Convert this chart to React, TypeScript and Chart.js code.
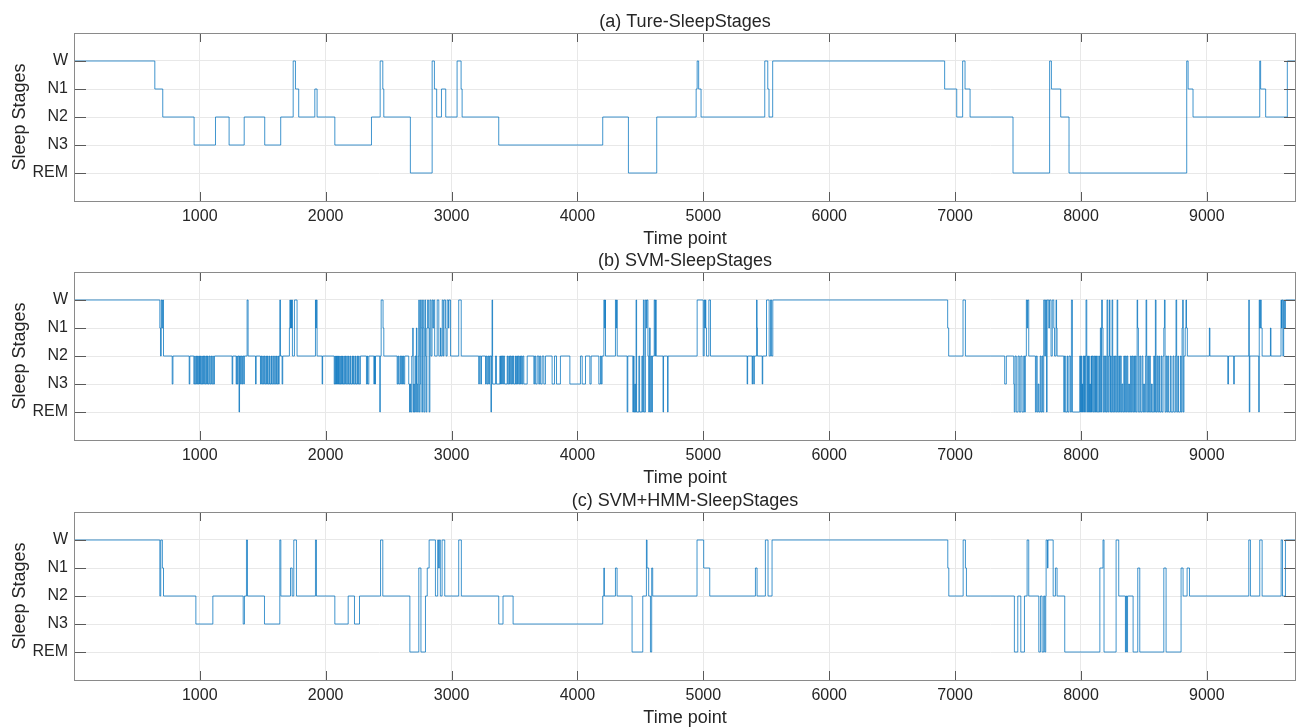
import React, { useEffect, useRef } from 'react';
import { Chart, registerables } from 'chart.js';

Chart.register(...registerables);

// Stage codes
const W = 5, N1 = 4, N2 = 3, N3 = 2, R = 1;
const stageTicks = [1, 2, 3, 4, 5];
const stageLabels: Record<number, string> = { 5: 'W', 4: 'N1', 3: 'N2', 2: 'N3', 1: 'REM' };
const timeTicks = [1000, 2000, 3000, 4000, 5000, 6000, 7000, 8000, 9000];
const T_MIN = 1;
const T_MAX = 9708;
const plotTitles = ['(a) Ture-SleepStages', '(b) SVM-SleepStages', '(c) SVM+HMM-SleepStages'];
const xTitle = 'Time point';
const yTitle = 'Sleep Stages';

// [time point where stage starts, stage]
const trueSteps: [number, number][] = [
  [1, W], [643, N1], [706, N2], [955, N3], [1125, N2], [1233, N3], [1353, N2], [1516, N3], [1643, N2],
  [1742, W], [1760, N1], [1786, N2], [1914, N1], [1932, N2], [2073, N3], [2364, N2], [2433, W], [2454, N1],
  [2462, N2], [2673, R], [2846, W], [2864, N1], [2882, N2], [2920, N1], [2954, N2], [3044, W], [3076, N1],
  [3084, N2], [3375, N3], [4201, N2], [4405, R], [4630, N2], [4943, N1], [4951, W], [4963, N1], [4982, N2],
  [5488, W], [5512, N1], [5522, N2], [5551, W], [6917, N1], [7013, N2], [7060, W], [7079, N1], [7119, N2],
  [7460, R], [7751, W], [7765, N1], [7839, N2], [7905, R], [8840, W], [8851, N1], [8890, N2], [9420, W],
  [9427, N1], [9467, N2], [9639, W], [9708, W],
];

const svmSteps: [number, number][] = [
  [1, W],
  [683, N1], [688, N2], [694, W], [700, N1], [705, W], [712, N2],
  [781, N3], [787, N2], [916, N3], [921, N2],
  [953, N3], [960, N2], [964, N3], [972, N2], [976, N3], [983, N2], [987, N3], [993, N2], [998, N3], [1004, N2],
  [1008, N3], [1016, N2], [1020, N3], [1026, N2], [1031, N3], [1037, N2], [1043, N3], [1050, N2], [1055, N3],
  [1061, N2], [1066, N3], [1074, N2], [1080, N3], [1088, N2], [1094, N3], [1103, N2], [1108, N3], [1117, N2],
  [1257, N3], [1262, N2], [1289, N3], [1294, N2], [1298, N3], [1304, N2], [1312, R], [1316, N2], [1324, N3],
  [1330, N2], [1337, N3], [1342, N2], [1350, N3], [1354, N2],
  [1376, W], [1384, N2], [1443, N3], [1448, N2],
  [1482, N3], [1487, N2], [1492, N3], [1500, N2], [1505, N3], [1512, N2], [1517, N3], [1525, N2], [1530, N3],
  [1538, N2], [1543, N3], [1552, N2], [1556, N3], [1566, N2], [1570, N3], [1580, N2], [1585, N3], [1595, N2],
  [1600, N3], [1608, N2], [1612, N3], [1620, N2], [1625, N3], [1631, N2],
  [1636, W], [1641, N2], [1654, N3], [1659, N2],
  [1712, N1], [1716, W], [1720, N1], [1724, W], [1728, N1], [1732, W], [1736, N2], [1752, W], [1773, N2],
  [1919, W], [1923, N1], [1926, W], [1932, N2], [1972, N3], [1976, N2],
  [2068, N3], [2074, N2], [2077, N3], [2083, N2], [2086, N3], [2092, N2], [2095, N3], [2102, N2], [2105, N3],
  [2112, N2], [2115, N3], [2122, N2], [2125, N3], [2133, N2], [2136, N3], [2145, N2], [2148, N3], [2156, N2],
  [2160, N3], [2168, N2], [2172, N3], [2182, N2], [2186, N3], [2195, N2], [2199, N3], [2210, N2], [2214, N3],
  [2222, N2], [2226, N3], [2236, N2], [2240, N3], [2250, N2], [2254, N3], [2262, N2], [2266, N3], [2276, N2],
  [2324, N3], [2330, N2], [2334, N3], [2343, N2], [2383, N3], [2388, N2], [2392, N3], [2396, N2],
  [2430, R], [2434, N2], [2441, W], [2456, N1], [2462, N2],
  [2568, N3], [2574, N2], [2580, N3], [2590, N2], [2596, N3], [2602, N2], [2610, N3], [2615, N2], [2620, N3], [2628, N2],
  [2660, N3], [2666, R], [2672, N3], [2676, R], [2684, N2], [2692, N1], [2695, R], [2700, N3], [2704, R],
  [2710, N2], [2716, R], [2721, N1], [2725, N3], [2730, R], [2736, N2], [2740, W], [2744, R], [2750, N3],
  [2754, W], [2760, N1], [2764, R], [2770, W], [2776, N1], [2780, R], [2788, W], [2794, N2], [2798, R],
  [2804, N1], [2810, W], [2816, N1], [2822, R], [2828, W], [2836, N2],
  [2845, W], [2852, N1], [2858, W], [2866, N2], [2886, W], [2899, N2], [2912, N1], [2916, N2], [2926, W],
  [2934, N2], [2940, W], [2952, N1], [2956, N2], [2965, W], [2975, N1], [2979, W], [2992, N2], [3057, W], [3077, N2],
  [3216, N3], [3221, N2], [3232, N3], [3238, N2], [3270, N3], [3276, N2], [3283, N3], [3290, N2], [3296, N3],
  [3302, N2], [3313, R], [3317, N2], [3322, W], [3326, N3], [3349, N2], [3357, N3], [3384, N2], [3388, N3],
  [3392, N2], [3398, N3], [3402, N2], [3408, N3], [3412, N2], [3421, N3], [3442, N2], [3447, N3], [3455, N2],
  [3460, N3], [3466, N2], [3472, N3], [3478, N2], [3485, N3], [3490, N2], [3495, N3], [3508, N2], [3513, N3],
  [3518, N2], [3524, N3], [3530, N2], [3536, N3], [3542, N2], [3548, N3], [3554, N2], [3560, N3], [3566, N2],
  [3574, N3], [3601, N2], [3654, N3], [3660, N2], [3668, N3], [3680, N2], [3693, N3], [3700, N2], [3708, N3],
  [3720, N2], [3733, N3], [3746, N2], [3799, N3], [3818, N2], [3834, N3], [3865, N2], [3940, N3], [4024, N2],
  [4038, N3], [4064, N2], [4099, N3], [4109, N2], [4170, N3], [4183, N2], [4190, N3], [4196, N2],
  [4210, W], [4216, N1], [4220, W], [4223, N2], [4302, W], [4308, N1], [4312, W], [4316, N2],
  [4395, R], [4400, N2], [4440, R], [4446, N2], [4450, R], [4456, N3], [4460, R], [4466, W], [4470, R],
  [4488, N2], [4494, R], [4512, N2], [4518, R], [4524, W], [4530, R], [4540, W], [4548, N1], [4552, W],
  [4560, N2], [4566, R], [4572, N1], [4578, R], [4584, N2], [4590, R], [4596, N2], [4610, W], [4616, N2],
  [4620, W], [4626, N2], [4680, R], [4684, N2], [4716, R], [4720, N2],
  [4951, W], [4999, N2], [5007, W], [5012, N1], [5016, W], [5020, N1], [5025, N2], [5044, W], [5057, N2],
  [5348, N3], [5352, N2], [5388, N3], [5392, N2], [5401, N3], [5405, N2], [5423, W], [5427, N1], [5430, N2],
  [5468, N3], [5472, N2], [5502, W], [5523, N2], [5534, W], [5542, N2], [5552, W],
  [6941, N1], [6949, N2], [7063, W], [7082, N2], [7394, N3], [7407, N2],
  [7466, N3], [7470, R], [7476, N2], [7486, R], [7500, N2], [7510, R], [7522, N2], [7532, R], [7545, N2],
  [7552, R], [7558, N2], [7566, W], [7572, N1], [7576, W], [7585, N2],
  [7638, R], [7645, N2], [7652, R], [7660, N3], [7666, R], [7676, N2], [7682, R], [7690, N2], [7696, R],
  [7704, W], [7712, N2], [7718, W], [7726, R], [7731, W], [7744, N1], [7750, W], [7762, N2], [7772, W],
  [7784, N1], [7790, N2], [7802, W], [7806, N1], [7810, N2],
  [7863, R], [7869, N2], [7876, R], [7890, N2], [7895, R], [7905, N2], [7916, R], [7924, W], [7932, R],
  [7990, N2], [7996, R], [8001, N2], [8005, R], [8009, N3], [8013, R], [8017, N2], [8022, R], [8027, N2],
  [8031, R], [8035, N2], [8040, W], [8046, R], [8052, N2], [8058, R], [8062, N2], [8066, R], [8070, N3],
  [8075, R], [8080, N2], [8084, R], [8088, N2], [8094, R], [8101, N2], [8108, R], [8115, N2], [8119, R],
  [8123, N2], [8130, R], [8141, N2], [8147, R], [8154, N1], [8160, R], [8164, W], [8170, N1], [8175, R],
  [8181, N2], [8188, R], [8194, N2], [8200, R], [8207, W], [8213, R], [8220, N2], [8226, W], [8230, R],
  [8234, N2], [8240, R], [8247, W], [8252, R], [8260, N2], [8266, R], [8273, N2], [8280, R], [8287, W],
  [8292, R], [8300, N2], [8306, R], [8313, N2], [8320, R], [8326, N3], [8332, R], [8340, N2], [8346, R],
  [8353, N2], [8360, R], [8366, N2], [8372, R], [8379, N3], [8385, R], [8393, N2], [8400, R], [8406, N2],
  [8412, R], [8419, N2], [8425, R], [8432, N2], [8438, R], [8446, W], [8450, N1], [8456, R], [8467, N2],
  [8474, R], [8485, N2], [8492, R], [8498, N3], [8504, R], [8512, N2], [8517, W], [8522, R], [8530, N2],
  [8536, R], [8545, N2], [8551, R], [8560, N3], [8566, R], [8578, N2], [8584, R], [8591, W], [8596, R],
  [8604, N2], [8610, R], [8618, N2], [8624, R], [8636, N2], [8642, R], [8652, N2], [8658, N1], [8663, W],
  [8668, R], [8676, N2], [8682, R], [8689, N2], [8696, R], [8710, N2], [8716, R], [8731, N2], [8738, R],
  [8750, N2], [8755, W], [8760, R], [8769, N2], [8775, R], [8790, N2], [8796, R], [8803, N1], [8808, W],
  [8812, R], [8818, N2], [8828, N1], [8834, W], [8838, N1], [8845, N2],
  [9020, N1], [9024, N2], [9166, N3], [9172, N2], [9213, N3], [9218, N2], [9333, W], [9337, R], [9341, N2],
  [9412, R], [9416, W], [9420, N1], [9426, W], [9432, N1], [9439, N2], [9505, N1], [9509, N2], [9589, W],
  [9593, N1], [9597, W], [9604, N2], [9610, W], [9616, N1], [9624, W], [9708, W],
];

const hmmSteps: [number, number][] = [
  [1, W], [683, N2], [690, W], [703, N1], [712, N2], [969, N3], [1104, N2], [1345, N3], [1355, N2], [1371, W],
  [1379, N2], [1514, N3], [1636, W], [1644, N2], [1721, N1], [1734, N2], [1747, W], [1768, N2], [1919, W],
  [1927, N2], [2073, N3], [2179, N2], [2229, N3], [2269, N2], [2436, W], [2454, N2], [2669, R], [2740, N1],
  [2757, R], [2793, N2], [2807, N1], [2822, W], [2872, N2], [2890, W], [2897, N1], [2903, W], [2911, N2],
  [2925, W], [2946, N2], [3057, W], [3078, N2], [3375, N3], [3409, N2], [3489, N3], [4201, N2], [4210, N1],
  [4214, N2], [4302, N1], [4315, N2], [4434, R], [4519, N2], [4548, W], [4553, N1], [4566, N2], [4580, R],
  [4590, N1], [4598, N2], [4950, W], [5003, N1], [5051, N2], [5414, N1], [5427, N2], [5493, W], [5514, N2],
  [5546, W], [6942, N1], [6950, N2], [7064, W], [7082, N1], [7090, N2], [7471, R], [7498, N2], [7522, R],
  [7551, N2], [7572, W], [7585, N2], [7665, R], [7678, N2], [7691, R], [7704, N2], [7712, R], [7720, N2],
  [7723, W], [7734, N1], [7738, W], [7779, N2], [7797, N1], [7810, N2], [7871, R], [8150, N1], [8175, W],
  [8183, R], [8279, W], [8300, N2], [8353, R], [8358, N2], [8363, R], [8370, N2], [8414, R], [8451, N1],
  [8467, R], [8658, N1], [8676, R], [8795, N1], [8811, N2], [8843, N1], [8862, N2], [9333, W], [9346, N2],
  [9420, W], [9439, N2], [9590, W], [9601, N2], [9624, W], [9708, W],
];

const seriesList = [trueSteps, svmSteps, hmmSteps];
const canvasTops = [0, 239, 479];

const FONT = '"Liberation Sans", Arial, Helvetica, sans-serif';
const TEXT = '#262626';
const GRID = '#e8e8e8';
const LINE = '#0072BD';

const boxPlugin = {
  id: 'matlabBox',
  afterDatasetsDraw(chart: any) {
    const { ctx, chartArea: a, scales } = chart;
    ctx.save();
    ctx.lineWidth = 1;
    ctx.strokeStyle = '#5a5a5a';
    ctx.beginPath();
    for (const v of timeTicks) {
      const px = Math.round(scales.x.getPixelForValue(v)) + 0.5;
      ctx.moveTo(px, a.top);
      ctx.lineTo(px, a.top + 9);
      ctx.moveTo(px, a.bottom);
      ctx.lineTo(px, a.bottom - 9);
    }
    for (const v of stageTicks) {
      const py = Math.round(scales.y.getPixelForValue(v)) + 0.5;
      ctx.moveTo(a.left, py);
      ctx.lineTo(a.left + 12, py);
      ctx.moveTo(a.right, py);
      ctx.lineTo(a.right - 12, py);
    }
    ctx.stroke();
    ctx.strokeStyle = '#8a8a8a';
    ctx.strokeRect(a.left + 0.5, a.top + 0.5, a.right - a.left - 1, a.bottom - a.top);
    ctx.restore();
  },
};

function StagePlot({ index }: { index: number }) {
  const ref = useRef<HTMLCanvasElement>(null);
  useEffect(() => {
    const steps = seriesList[index];
    const chart = new Chart(ref.current as HTMLCanvasElement, {
      type: 'line',
      data: {
        datasets: [
          {
            data: steps.map(([t, v]) => ({ x: t, y: v })),
            stepped: true,
            borderColor: LINE,
            borderWidth: 0.75,
            pointRadius: 0,
            fill: false,
          },
        ],
      },
      options: {
        animation: false,
        responsive: false,
        devicePixelRatio: 1,
        events: [],
        layout: { padding: { left: 0, right: 1, top: 0, bottom: 0 } },
        plugins: {
          legend: { display: false },
          tooltip: { enabled: false },
          title: {
            display: true,
            fullSize: false,
            text: plotTitles[index],
            color: TEXT,
            font: { family: FONT, size: 18, weight: 'normal' },
            padding: { top: 11.4, bottom: 0 },
          },
        },
        scales: {
          x: {
            type: 'linear',
            min: T_MIN,
            max: T_MAX,
            afterBuildTicks: (s: any) => {
              s.ticks = timeTicks.map((v) => ({ value: v }));
            },
            afterFit: (s: any) => {
              s.height = 49;
            },
            ticks: {
              color: TEXT,
              font: { family: FONT, size: 16 },
              padding: 6.4,
              maxRotation: 0,
              autoSkip: false,
              callback: (v: any) => String(v),
            },
            grid: { color: GRID, drawTicks: false, lineWidth: 1 },
            border: { display: false },
            title: {
              display: true,
              text: xTitle,
              color: TEXT,
              font: { family: FONT, size: 18 },
              padding: { top: 0, bottom: 0 },
            },
          },
          y: {
            type: 'linear',
            min: 0,
            max: 6,
            afterBuildTicks: (s: any) => {
              s.ticks = stageTicks.map((v) => ({ value: v }));
            },
            afterFit: (s: any) => {
              s.width = 74;
            },
            ticks: {
              color: TEXT,
              font: { family: FONT, size: 16 },
              padding: 6,
              autoSkip: false,
              callback: (v: any) => stageLabels[v] ?? '',
            },
            grid: { color: GRID, drawTicks: false, lineWidth: 1 },
            border: { display: false },
            title: {
              display: true,
              text: yTitle,
              color: TEXT,
              font: { family: FONT, size: 18 },
              padding: { top: 9.7, bottom: 0 },
            },
          },
        },
      } as any,
      plugins: [boxPlugin],
    });
    return () => chart.destroy();
  }, [index]);
  return (
    <canvas
      ref={ref}
      width={1297}
      height={250}
      style={{ position: 'absolute', left: 0, top: canvasTops[index], width: 1297, height: 250 }}
    />
  );
}

export default function App() {
  return (
    <div
      style={{
        position: 'fixed',
        left: 0,
        top: 0,
        width: 1297,
        height: 728,
        overflow: 'hidden',
        background: '#ffffff',
      }}
    >
      <StagePlot index={0} />
      <StagePlot index={1} />
      <StagePlot index={2} />
    </div>
  );
}
